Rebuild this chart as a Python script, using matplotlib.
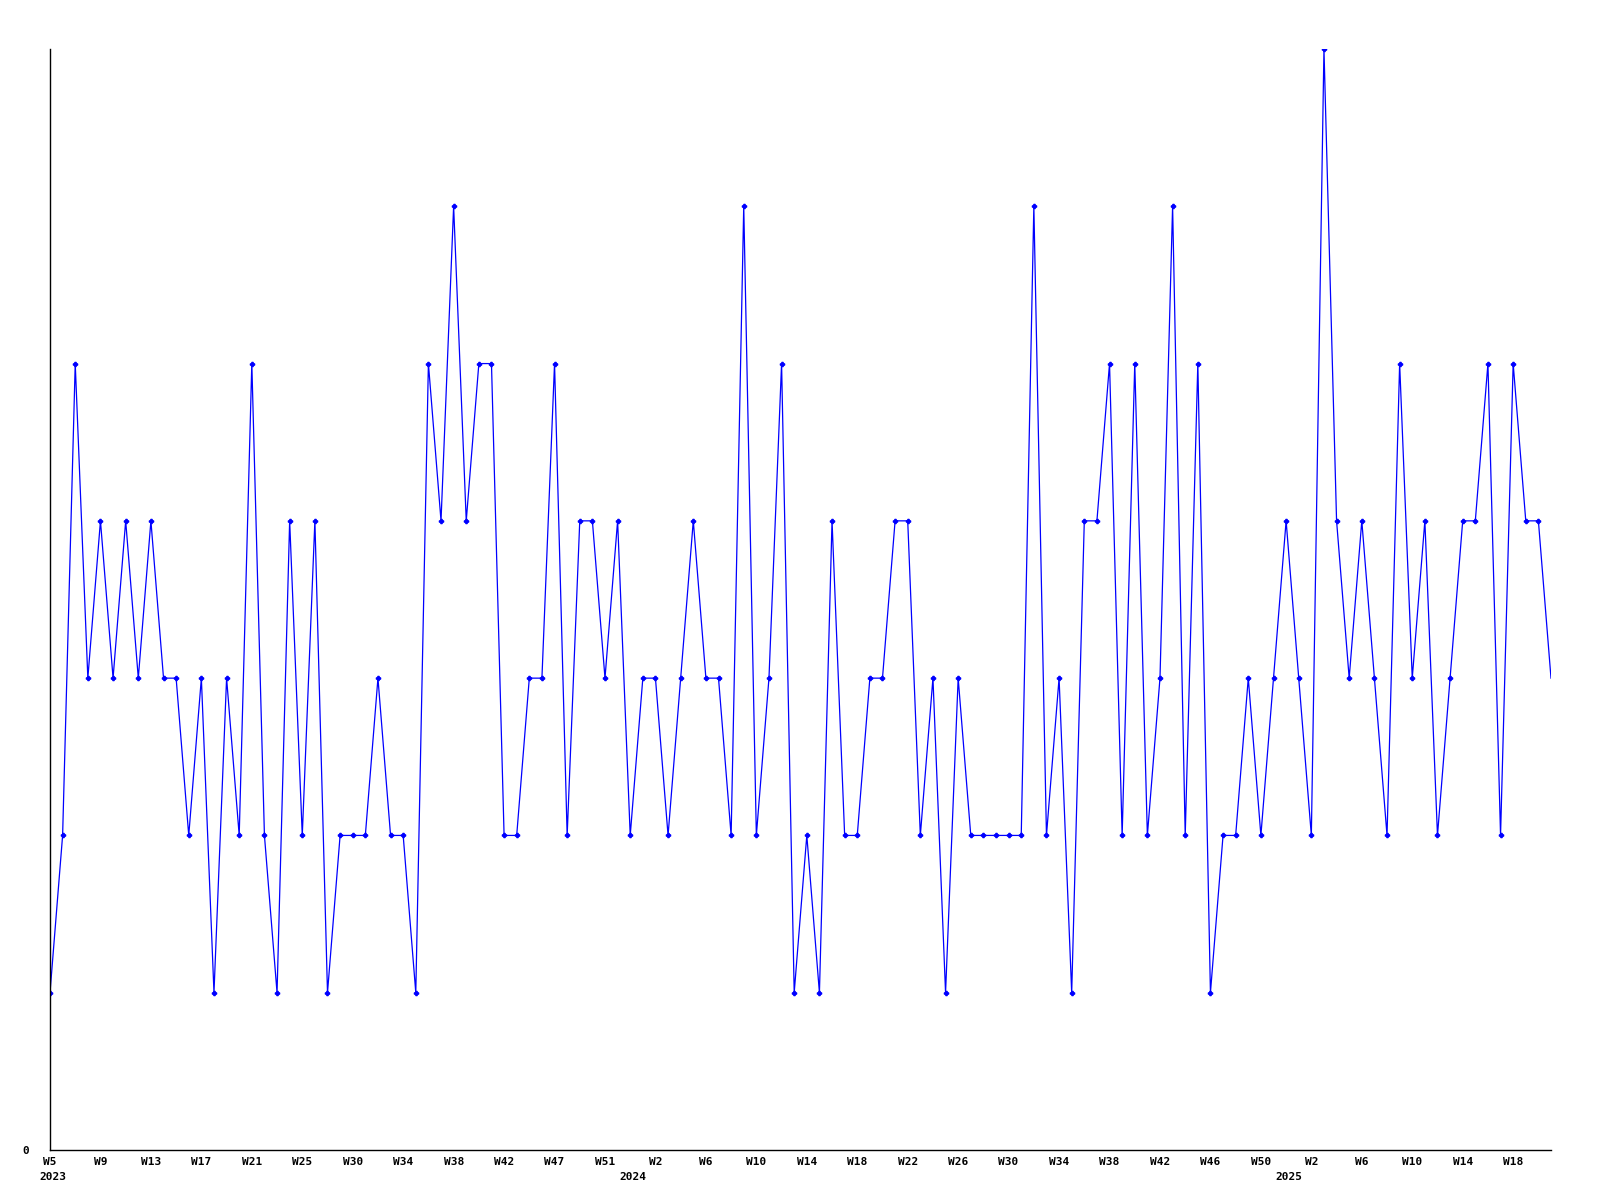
import matplotlib
matplotlib.use("Agg")
import matplotlib.pyplot as plt

# weekly counts, 2023 W5 onward
counts = [1, 2, 5, 3, 4, 3, 4, 3, 4, 3,
          3, 2, 3, 1, 3, 2, 5, 2, 1, 4,
          2, 4, 1, 2, 2, 2, 3, 2, 2, 1,
          5, 4, 6, 4, 5, 5, 2, 2, 3, 3,
          5, 2, 4, 4, 3, 4, 2, 3, 3, 2,
          3, 4, 3, 3, 2, 6, 2, 3, 5, 1,
          2, 1, 4, 2, 2, 3, 3, 4, 4, 2,
          3, 1, 3, 2, 2, 2, 2, 2, 6, 2,
          3, 1, 4, 4, 5, 2, 5, 2, 3, 6,
          2, 5, 1, 2, 2, 3, 2, 3, 4, 3,
          2, 7, 4, 3, 4, 3, 2, 5, 3, 4,
          2, 3, 4, 4, 5, 2, 5, 4, 4, 3]

week_labels = ["W5", "W9", "W13", "W17", "W21", "W25", "W30", "W34", "W38", "W42",
               "W47", "W51", "W2", "W6", "W10", "W14", "W18", "W22", "W26", "W30",
               "W34", "W38", "W42", "W46", "W50", "W2", "W6", "W10", "W14", "W18"]
week_ticks = list(range(0, 4 * len(week_labels), 4))

year_labels = ["2023", "2024", "2025"]
year_pos = [0.25, 46.2, 98.2]

font = {"family": "DejaVu Sans Mono", "weight": "bold", "size": 8}

fig = plt.figure(figsize=(16, 12), dpi=100)
ax = fig.add_axes([50 / 1600, 50 / 1200, 1501 / 1600, 1101 / 1200])

x = list(range(len(counts)))
ax.plot(x, counts, color="#0000ff", linewidth=0.9, marker="P", markersize=3,
        markevery=list(range(len(counts) - 1)))

ax.set_xlim(0, len(counts) - 1)
ax.set_ylim(0, 7)

for s in ["top", "right"]:
    ax.spines[s].set_visible(False)
ax.spines["left"].set_linewidth(1)
ax.spines["bottom"].set_linewidth(1)

ax.set_yticks([0])
ax.set_yticklabels(["0"], **font)
ax.set_xticks(week_ticks)
ax.set_xticklabels(week_labels, **font)
ax.tick_params(axis="both", length=0)
ax.tick_params(axis="x", pad=5)
ax.tick_params(axis="y", pad=15)

for lab, pos in zip(year_labels, year_pos):
    ax.text(pos, -0.17, lab, ha="center", va="center", **font)

fig.savefig("out.png", dpi=100, facecolor="white")
